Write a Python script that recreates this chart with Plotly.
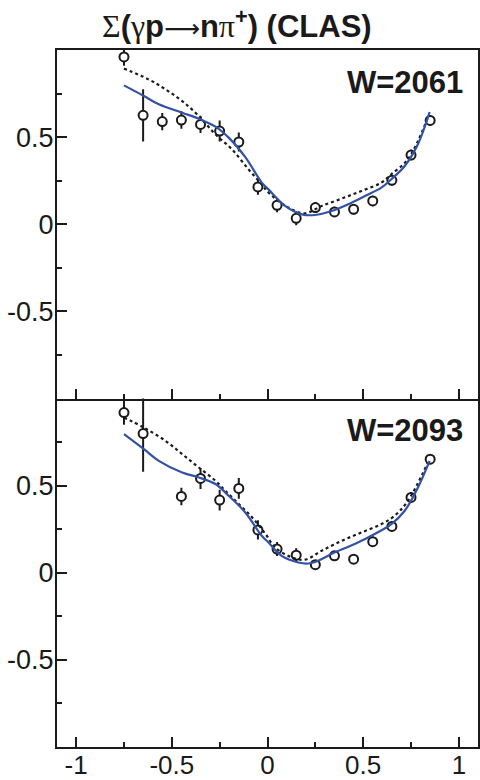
import plotly.graph_objects as go
from plotly.subplots import make_subplots

# cos(theta) bins of the CLAS beam-asymmetry data
cos_2061 = [-0.75, -0.65, -0.55, -0.45, -0.35, -0.25, -0.15, -0.05, 0.05,
            0.15, 0.25, 0.35, 0.45, 0.55, 0.65, 0.75, 0.85]
sig_2061 = [0.96, 0.625, 0.589, 0.598, 0.573, 0.535, 0.472, 0.214, 0.109,
            0.034, 0.096, 0.071, 0.086, 0.134, 0.252, 0.397, 0.596]
err_2061 = [0.05, 0.15, 0.05, 0.05, 0.05, 0.06, 0.055, 0.045, 0.04,
            0.04, 0.03, 0.03, 0.03, 0.03, 0.03, 0.03, 0.03]

cos_2093 = [-0.75, -0.65, -0.45, -0.35, -0.25, -0.15, -0.05, 0.05,
            0.15, 0.25, 0.35, 0.45, 0.55, 0.65, 0.75, 0.85]
sig_2093 = [0.919, 0.799, 0.438, 0.541, 0.417, 0.484, 0.246, 0.136,
            0.101, 0.046, 0.097, 0.078, 0.178, 0.266, 0.432, 0.652]
err_2093 = [0.07, 0.22, 0.05, 0.06, 0.06, 0.06, 0.055, 0.04,
            0.04, 0.025, 0.025, 0.025, 0.03, 0.03, 0.03, 0.03]

# Model curves: solid (new fit) and dotted (previous solution)
fit_x_2061 = [-0.75, -0.646, -0.568, -0.446, -0.351, -0.272, -0.203, -0.116,
              -0.03, 0.005, 0.092, 0.179, 0.248, 0.335, 0.422, 0.509, 0.595,
              0.647, 0.717, 0.786, 0.847]
fit_y_2061 = [0.797, 0.736, 0.688, 0.640, 0.602, 0.560, 0.497, 0.385,
              0.239, 0.200, 0.105, 0.057, 0.053, 0.076, 0.115, 0.162, 0.210,
              0.258, 0.334, 0.459, 0.644]
old_x_2061 = [-0.75, -0.62, -0.533, -0.446, -0.359, -0.272, -0.186, -0.099,
              -0.03, 0.005, 0.109, 0.196, 0.283, 0.387, 0.491, 0.595, 0.647,
              0.734, 0.838]
old_y_2061 = [0.893, 0.831, 0.774, 0.707, 0.621, 0.516, 0.430, 0.315,
              0.229, 0.182, 0.096, 0.063, 0.105, 0.147, 0.191, 0.239, 0.287,
              0.373, 0.612]

fit_x_2093 = [-0.75, -0.646, -0.568, -0.446, -0.359, -0.272, -0.203, -0.116,
              -0.03, 0.005, 0.074, 0.161, 0.213, 0.265, 0.352, 0.456, 0.560,
              0.647, 0.717, 0.786, 0.847]
fit_y_2093 = [0.795, 0.709, 0.642, 0.575, 0.547, 0.509, 0.442, 0.346,
              0.212, 0.174, 0.097, 0.059, 0.053, 0.069, 0.117, 0.165, 0.222,
              0.279, 0.356, 0.489, 0.642]
old_x_2093 = [-0.75, -0.646, -0.533, -0.446, -0.359, -0.272, -0.22, -0.15,
              -0.08, -0.01, 0.04, 0.127, 0.196, 0.283, 0.387, 0.491, 0.595,
              0.664, 0.734, 0.838]
old_y_2093 = [0.891, 0.833, 0.757, 0.681, 0.604, 0.528, 0.470, 0.394,
              0.317, 0.222, 0.145, 0.088, 0.075, 0.126, 0.183, 0.231, 0.279,
              0.327, 0.413, 0.632]

panel_labels = ["W=2061", "W=2093"]
x_tickvals = [-1, -0.5, 0, 0.5, 1]
x_ticktext = ["-1", "-0.5", "0", "0.5", "1"]
y_tickvals = [-0.5, 0, 0.5]
y_ticktext = ["-0.5", "0", "0.5"]

BLUE = "#3352a6"
INK = "#1a1a1a"
FONT = "Liberation Sans, Arial, sans-serif"

fig = make_subplots(rows=2, cols=1, shared_xaxes=True, vertical_spacing=0)

panels = [
    (cos_2061, sig_2061, err_2061, fit_x_2061, fit_y_2061, old_x_2061, old_y_2061),
    (cos_2093, sig_2093, err_2093, fit_x_2093, fit_y_2093, old_x_2093, old_y_2093),
]

for row, (cx, sy, ey, fx, fy, ox, oy) in enumerate(panels, start=1):
    fig.add_trace(go.Scatter(
        x=cx, y=sy, mode="markers",
        marker=dict(symbol="circle", size=9, color="white",
                    line=dict(color=INK, width=2)),
        error_y=dict(type="data", array=ey, color=INK, thickness=2, width=0),
        showlegend=False, cliponaxis=False,
    ), row=row, col=1)
    fig.add_trace(go.Scatter(
        x=ox, y=oy, mode="lines", line=dict(color=INK, width=2.2, dash="dot"),
        line_shape="spline", showlegend=False,
    ), row=row, col=1)
    fig.add_trace(go.Scatter(
        x=fx, y=fy, mode="lines", line=dict(color=BLUE, width=2.2),
        line_shape="spline", showlegend=False,
    ), row=row, col=1)

axis_common = dict(
    showline=True, linecolor=INK, linewidth=2,
    ticks="inside", ticklen=10, tickwidth=2, tickcolor=INK,
    showgrid=False, zeroline=False, automargin=False,
    minor=dict(ticks="inside", ticklen=5, tickwidth=2, tickcolor=INK,
               dtick=0.25, showgrid=False),
)

for row in (1, 2):
    # the lower panel's top edge coincides with the upper panel's bottom axis
    fig.update_xaxes(range=[-1.1, 1.1], tickvals=x_tickvals, ticktext=x_ticktext,
                     showticklabels=(row == 2), ticklabelstandoff=-6,
                     mirror=(row == 1),
                     tickfont=dict(family=FONT, size=26, color=INK),
                     row=row, col=1, **axis_common)
    fig.update_yaxes(range=[-1, 1], tickvals=y_tickvals, ticktext=y_ticktext,
                     ticklabelstandoff=-4, mirror=True,
                     tickfont=dict(family=FONT, size=27, color=INK),
                     row=row, col=1, **axis_common)

for i, label in enumerate(panel_labels):
    suffix = "" if i == 0 else "2"
    fig.add_annotation(
        text=f"<b>{label}</b>", xref=f"x{suffix} domain", yref=f"y{suffix} domain",
        x=0.97, y=0.907, xanchor="right", yanchor="middle", showarrow=False,
        font=dict(family=FONT, size=31, color=INK),
    )

GREEK = "font-family:'Liberation Serif',serif;font-size:32px"
ARROW = "font-family:'DejaVu Sans',sans-serif;font-size:25px"
title_text = (
    f"<span style=\"{GREEK}\">Σ</span><b>(</b>"
    f"<span style=\"{GREEK}\">γ</span><b>p</b>"
    f"<span style=\"{ARROW}\">⟶</span><b>n</b>"
    f"<span style=\"{GREEK}\">π</span><b><sup>+</sup>)</b> <b>(CLAS)</b>"
)
fig.add_annotation(
    text=title_text,
    xref="paper", yref="paper", x=0.4287, y=1.038, xanchor="center",
    yanchor="middle", showarrow=False,
    font=dict(family=FONT, size=31, color=INK),
)

fig.update_layout(
    width=480, height=780,
    margin=dict(l=57, r=2, t=50, b=33),
    paper_bgcolor="white", plot_bgcolor="white",
)

fig.write_html("out.html")
